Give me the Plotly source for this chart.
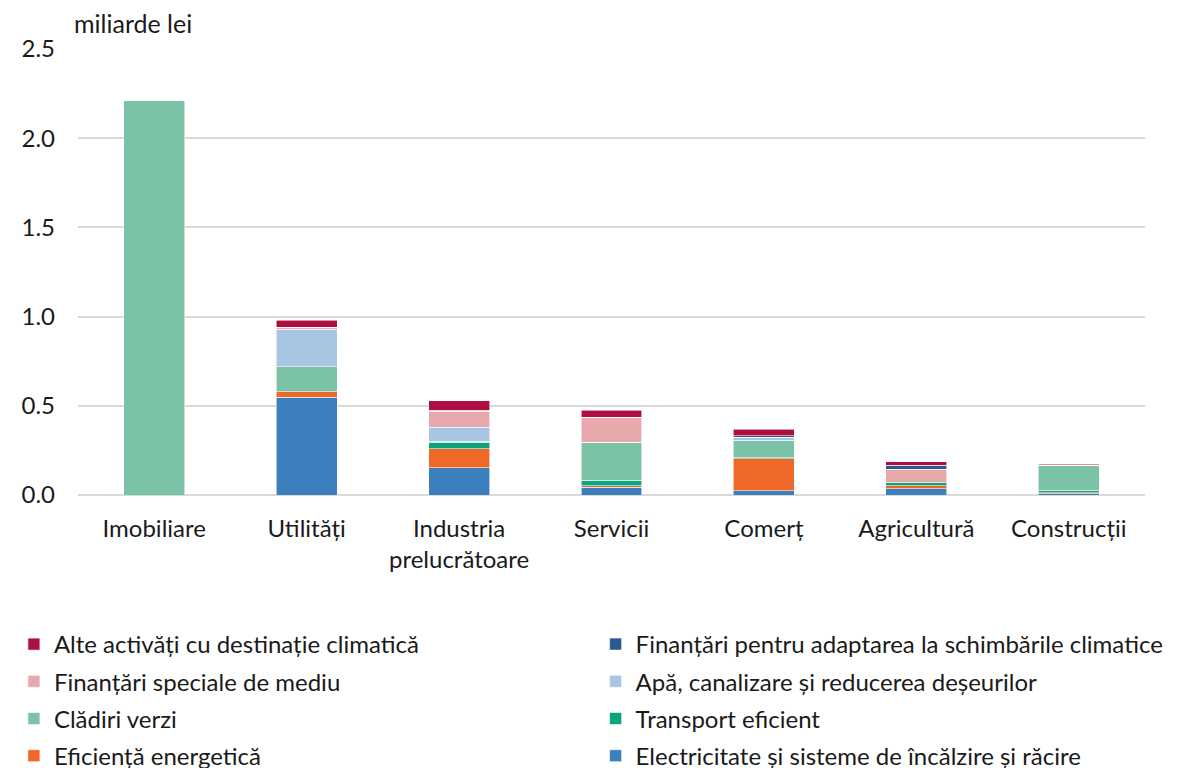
import plotly.graph_objects as go

categories = ["Imobiliare", "Utilități", "Industria<br>prelucrătoare", "Servicii", "Comerț", "Agricultură", "Construcții"]

# stacking order bottom -> top
electricitate = [0.000, 0.547, 0.152, 0.043, 0.024, 0.034, 0.006]
eficienta = [0.000, 0.032, 0.107, 0.009, 0.178, 0.019, 0.007]
transport = [0.000, 0.000, 0.036, 0.030, 0.007, 0.015, 0.013]
cladiri = [2.210, 0.139, 0.005, 0.215, 0.099, 0.002, 0.137]
apa = [0.000, 0.212, 0.081, 0.000, 0.015, 0.000, 0.000]
speciale = [0.003, 0.011, 0.088, 0.139, 0.000, 0.075, 0.004]
adaptare = [0.000, 0.000, 0.006, 0.000, 0.009, 0.021, 0.000]
alte = [0.000, 0.039, 0.052, 0.039, 0.036, 0.021, 0.006]

series = [
    ("Electricitate și sisteme de încălzire și răcire", electricitate, "#3b7fbc", "legend2", 4),
    ("Eficiență energetică", eficienta, "#f06828", "legend", 4),
    ("Transport eficient", transport, "#0ba47b", "legend2", 3),
    ("Clădiri verzi", cladiri, "#7cc2a7", "legend", 3),
    ("Apă, canalizare și reducerea deșeurilor", apa, "#a8c5e3", "legend2", 2),
    ("Finanțări speciale de mediu", speciale, "#e8a9ad", "legend", 2),
    ("Finanțări pentru adaptarea la schimbările climatice", adaptare, "#2a5b8e", "legend2", 1),
    ("Alte activăți cu destinație climatică", alte, "#ad0f41", "legend", 1),
]

FONT = "Lato, Carlito, 'Open Sans', sans-serif"
FS = 24

fig = go.Figure()
for i, (name, vals, color, leg, rank) in enumerate(series):
    fig.add_trace(go.Bar(
        x=categories, y=vals, name=name,
        marker=dict(color=color, line=dict(color="rgba(255,255,255,0.7)", width=0.8)),
        legend=leg, legendgroup=f"g{i}", legendrank=rank,
    ))

leg_common = dict(
    orientation="v", traceorder="grouped", tracegroupgap=3,
    font=dict(family=FONT, size=FS, color="#1a1a1a"),
    bgcolor="rgba(0,0,0,0)", xref="container", yref="container",
    xanchor="left", yanchor="top", y=0.2005,
    itemclick=False, itemdoubleclick=False,
)

fig.update_layout(
    barmode="stack",
    bargap=0.6,
    width=1179, height=768,
    margin=dict(l=70, r=42, t=41, b=281, autoexpand=False),
    paper_bgcolor="white", plot_bgcolor="white",
    font=dict(family=FONT, size=FS, color="#1a1a1a"),
    legend=dict(leg_common, x=0.005),
    legend2=dict(leg_common, x=0.4984),
    showlegend=True,
    xaxis=dict(showgrid=False, showline=False, ticks="", tickfont=dict(size=FS),
               ticklabelstandoff=17),
    yaxis=dict(range=[0, 2.5], dtick=0.5, tickformat=".1f", showgrid=True,
               gridcolor="#d9d9d9", gridwidth=1.5, zeroline=True, zerolinecolor="#d9d9d9",
               zerolinewidth=1.5, showline=False, ticks="", ticklabelstandoff=22,
               tickfont=dict(size=FS)),
    annotations=[dict(text="miliarde lei", xref="paper", yref="paper", x=-0.005, y=1.0,
                      xanchor="left", yanchor="middle", yshift=26, borderpad=0,
                      showarrow=False,
                      font=dict(family=FONT, size=25, color="#1a1a1a"))],
)

fig.write_html("out.html")
